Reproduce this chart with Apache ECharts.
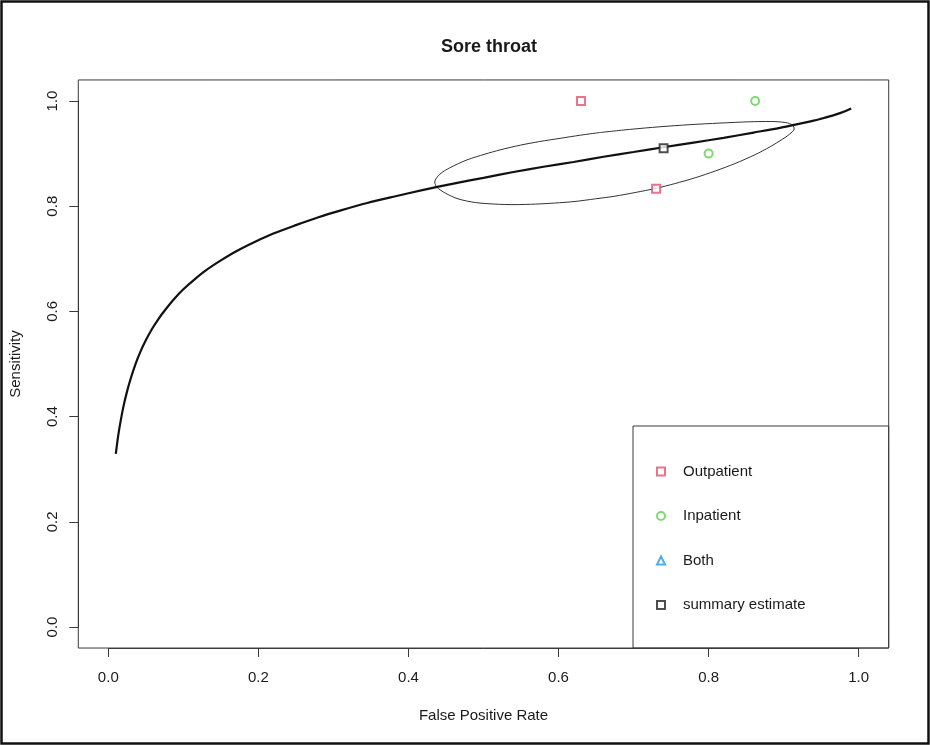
<!DOCTYPE html>
<html>
<head>
<meta charset="utf-8">
<title>Sore throat</title>
<script src="https://cdn.jsdelivr.net/npm/echarts@6/dist/echarts.min.js"></script>
<style>
  html, body { margin: 0; padding: 0; background: #ffffff; }
  #chart { width: 930px; height: 745px; }
</style>
</head>
<body>
<div id="chart"></div>
<script>
// Axis ticks (both axes share the 0..1 scale)
const axisTicks = [0.0, 0.2, 0.4, 0.6, 0.8, 1.0];

// Individual study estimates (false positive rate, sensitivity)
const outpatientFpr = [0.63, 0.73];
const outpatientSens = [1.0, 0.833];
const inpatientFpr = [0.862, 0.80];
const inpatientSens = [1.0, 0.90];
const bothFpr = [];
const bothSens = [];

// Summary operating point
const summaryFpr = [0.74];
const summarySens = [0.91];

// Summary ROC curve
const srocFpr = [0.010, 0.013, 0.016, 0.020, 0.025, 0.030, 0.036, 0.043, 0.050, 0.058,
                 0.067, 0.077, 0.088, 0.100, 0.115, 0.130, 0.150, 0.170, 0.195, 0.220,
                 0.250, 0.280, 0.310, 0.345, 0.380, 0.420, 0.460, 0.500, 0.540, 0.580,
                 0.620, 0.660, 0.700, 0.740, 0.780, 0.820, 0.860, 0.895, 0.925, 0.940,
                 0.950, 0.960, 0.970, 0.980, 0.990];
const srocSens = [0.329, 0.362, 0.388, 0.418, 0.448, 0.473, 0.499, 0.524, 0.545, 0.566,
                  0.586, 0.605, 0.624, 0.642, 0.661, 0.678, 0.697, 0.714, 0.732, 0.748,
                  0.764, 0.779, 0.792, 0.806, 0.818, 0.831, 0.843, 0.854, 0.865, 0.875,
                  0.884, 0.894, 0.903, 0.912, 0.921, 0.930, 0.940, 0.949, 0.958, 0.9628,
                  0.9664, 0.9702, 0.9746, 0.9796, 0.9859];

// Confidence region around the summary point (closed outline)
const regionFpr = [0.655, 0.695, 0.735, 0.775, 0.815, 0.855, 0.882, 0.903, 0.912, 0.914,
                   0.908, 0.898, 0.882, 0.862, 0.835, 0.809, 0.782, 0.755, 0.730, 0.702,
                   0.675, 0.649, 0.622, 0.595, 0.569, 0.542, 0.515, 0.489, 0.466, 0.449,
                   0.438, 0.435, 0.442, 0.455, 0.478, 0.502, 0.522, 0.549, 0.575, 0.602,
                   0.629, 0.655];
const regionSens = [0.940, 0.946, 0.951, 0.955, 0.958, 0.9605, 0.961, 0.959, 0.954, 0.947,
                    0.937, 0.927, 0.913, 0.898, 0.881, 0.867, 0.854, 0.843, 0.834, 0.826,
                    0.819, 0.814, 0.809, 0.806, 0.804, 0.803, 0.804, 0.807, 0.814, 0.825,
                    0.836, 0.846, 0.861, 0.873, 0.888, 0.899, 0.907, 0.916, 0.923, 0.929,
                    0.935, 0.940];

const seriesNames = ['Outpatient', 'Inpatient', 'Both', 'summary estimate'];
const seriesColors = ['#DF536B', '#61D04F', '#2297E6', '#222222'];

const pairs = (xs, ys) => xs.map((x, i) => [x, ys[i]]);

const FONT = '"Liberation Sans", Arial, Helvetica, sans-serif';
const TEXT = '#1a1a1a';
const FRAME = '#3a3a3a';

// Plot geometry: data range 0..1 sits inside a box padded by 4% on each side
const gridLeft = 108.3, gridTop = 101, gridW = 750.4, gridH = 526;
const padX = 0.04 * gridW, padY = 0.04 * gridH;

const chart = echarts.init(document.getElementById('chart'), null, { renderer: 'canvas' });

const pointSeries = (name, sym, xs, ys, color) => ({
  name: name,
  type: 'scatter',
  symbol: sym,
  symbolSize: 8,
  clip: false,
  z: 5,
  itemStyle: { color: color, borderWidth: 1.2 },
  data: pairs(xs, ys)
});

chart.setOption({
  animation: false,
  backgroundColor: '#ffffff',
  title: {
    text: 'Sore throat',
    left: 484,
    top: 33,
    textAlign: 'center',
    textStyle: { fontFamily: FONT, fontSize: 18, fontWeight: 'bold', color: TEXT }
  },
  grid: {
    left: gridLeft, top: gridTop, width: gridW, height: gridH,
    containLabel: false, outerBoundsMode: 'none'
  },
  xAxis: {
    type: 'value', min: 0, max: 1, interval: 0.2,
    offset: padY,
    axisLine: { show: true, onZero: false, lineStyle: { color: FRAME, width: 1 } },
    axisTick: { show: true, inside: false, length: 9, lineStyle: { color: FRAME, width: 1 } },
    axisLabel: {
      margin: 22, fontSize: 15, fontFamily: FONT, color: TEXT,
      customValues: axisTicks, formatter: v => v.toFixed(1)
    },
    splitLine: { show: false },
    name: 'False Positive Rate',
    nameLocation: 'middle',
    nameGap: 60,
    nameTextStyle: { fontSize: 15, fontFamily: FONT, color: TEXT }
  },
  yAxis: {
    type: 'value', min: 0, max: 1, interval: 0.2,
    offset: padX,
    axisLine: { show: true, onZero: false, lineStyle: { color: FRAME, width: 1 } },
    axisTick: { show: true, inside: false, length: 9, lineStyle: { color: FRAME, width: 1 } },
    axisLabel: {
      margin: 18, rotate: 90, fontSize: 15, fontFamily: FONT, color: TEXT,
      formatter: v => v.toFixed(1)
    },
    splitLine: { show: false },
    name: 'Sensitivity',
    nameLocation: 'middle',
    nameGap: 55,
    nameTextStyle: { fontSize: 15, fontFamily: FONT, color: TEXT }
  },
  legend: {
    orient: 'vertical',
    left: 651,
    top: 459,
    itemWidth: 8,
    itemHeight: 8,
    itemGap: 29.5,
    selectedMode: false,
    data: seriesNames,
    textStyle: { fontSize: 15, fontFamily: FONT, color: TEXT, padding: [0, 0, 0, 13] }
  },
  graphic: [
    // outer picture frame
    { type: 'rect', shape: { x: 1.5, y: 1.5, width: 927, height: 742 },
      style: { fill: 'none', stroke: '#111', lineWidth: 2.5 }, silent: true },
    // plot box
    { type: 'rect', shape: { x: gridLeft - padX, y: gridTop - padY, width: gridW + 2 * padX, height: gridH + 2 * padY },
      style: { fill: 'none', stroke: FRAME, lineWidth: 1 }, silent: true, z: 1 },
    // legend box
    { type: 'rect', shape: { x: 633, y: 426, width: gridLeft + gridW + padX - 633, height: gridTop + gridH + padY - 426 },
      style: { fill: 'none', stroke: FRAME, lineWidth: 1 }, silent: true, z: 1 }
  ],
  series: [
    {
      name: 'confidence region',
      type: 'line',
      data: pairs(regionFpr, regionSens),
      smooth: 0.3,
      showSymbol: false,
      clip: false,
      lineStyle: { color: '#333', width: 1 },
      z: 2
    },
    {
      name: 'SROC',
      type: 'line',
      data: pairs(srocFpr, srocSens),
      smooth: 0.3,
      showSymbol: false,
      clip: false,
      lineStyle: { color: '#111', width: 2.2 },
      z: 3
    },
    pointSeries(seriesNames[0], 'emptyRect', outpatientFpr, outpatientSens, seriesColors[0]),
    pointSeries(seriesNames[1], 'emptyCircle', inpatientFpr, inpatientSens, seriesColors[1]),
    pointSeries(seriesNames[2], 'emptyTriangle', bothFpr, bothSens, seriesColors[2]),
    pointSeries(seriesNames[3], 'emptyRect', summaryFpr, summarySens, seriesColors[3])
  ]
});
</script>
</body>
</html>
